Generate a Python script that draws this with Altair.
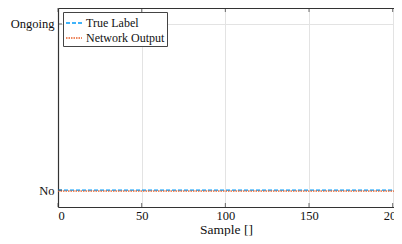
import altair as alt
import pandas as pd

samples = list(range(0, 203))
true_label = [0.0] * 203
network_output = [-0.006] * 203
series_names = ["True Label", "Network Output"]
series_colors = ["#009af9", "#e8612c"]
x_ticks = [0, 50, 100, 150, 200]
y_ticks = [0, 1]

rows = []
for s, v in zip(samples, true_label):
    rows.append({"sample": s, "value": v, "series": "True Label"})
for s, v in zip(samples, network_output):
    rows.append({"sample": s, "value": v, "series": "Network Output"})
df = pd.DataFrame(rows)

FONT = "Liberation Serif"
xscale = alt.Scale(domain=[0, 200.8], nice=False, zero=False)
yscale = alt.Scale(domain=[-0.102, 1.096], nice=False, zero=False)

leg = alt.Legend(title=None, orient="none", legendX=5, legendY=4)
yaxis = alt.Axis(values=y_ticks, title=None, grid=True, ticks=False, domain=True,
                 labelExpr="datum.value == 1 ? 'Ongoing' : 'No'", labelPadding=4)

lines = alt.Chart(df).mark_line(clip=True, strokeWidth=1.2).encode(
    x=alt.X("sample:Q", scale=xscale,
            axis=alt.Axis(values=x_ticks, title="Sample []", grid=True, ticks=False,
                          domain=True, labelPadding=2, titlePadding=1)),
    y=alt.Y("value:Q", scale=yscale, axis=yaxis),
    color=alt.Color("series:N", scale=alt.Scale(domain=series_names, range=series_colors), legend=leg),
    strokeDash=alt.StrokeDash("series:N", scale=alt.Scale(domain=series_names, range=[[4, 2], [1.5, 1]]), legend=leg),
    order=alt.Order("sample:Q"),
)

xt = pd.DataFrame({"t": x_ticks})
yt = pd.DataFrame({"t": y_ticks})

top_ticks = alt.Chart(xt).mark_tick(color="#333", thickness=1, size=4).encode(
    x=alt.X("t:Q", scale=xscale,
            axis=alt.Axis(orient="top", labels=False, ticks=False, grid=False, domain=True, title=None)),
    y=alt.value(2),
)
bottom_ticks = alt.Chart(xt).mark_tick(color="#333", thickness=1, size=4).encode(
    x=alt.X("t:Q", scale=xscale, axis=None), y=alt.value(197),
)
left_ticks = alt.Chart(yt).mark_tick(color="#333", thickness=1, size=4).encode(
    y=alt.Y("t:Q", scale=yscale, axis=yaxis), x=alt.value(2),
)

chart = alt.layer(lines, top_ticks, bottom_ticks, left_ticks).resolve_axis(x="independent").properties(
    width=336, height=199,
    autosize=alt.AutoSizeParams(type="none"),
    padding={"left": 50, "top": 0, "right": 0, "bottom": 29},
).configure_view(stroke=None).configure_axis(
    labelFont=FONT, titleFont=FONT, labelFontSize=12.5, titleFontSize=13.5,
    labelColor="#111", titleColor="#111", titleFontWeight="normal",
    domainColor="#333", domainWidth=1.2, gridColor="#e3e3e3", gridWidth=1,
).configure_legend(
    strokeColor="#444", fillColor="white", padding=2,
    symbolType="stroke", symbolSize=256, symbolStrokeWidth=1.3,
    labelFont=FONT, labelFontSize=12, labelColor="#111",
    rowPadding=-2, labelOffset=3,
)

chart.save("out.html", embed_options={"renderer": "svg", "actions": False})
